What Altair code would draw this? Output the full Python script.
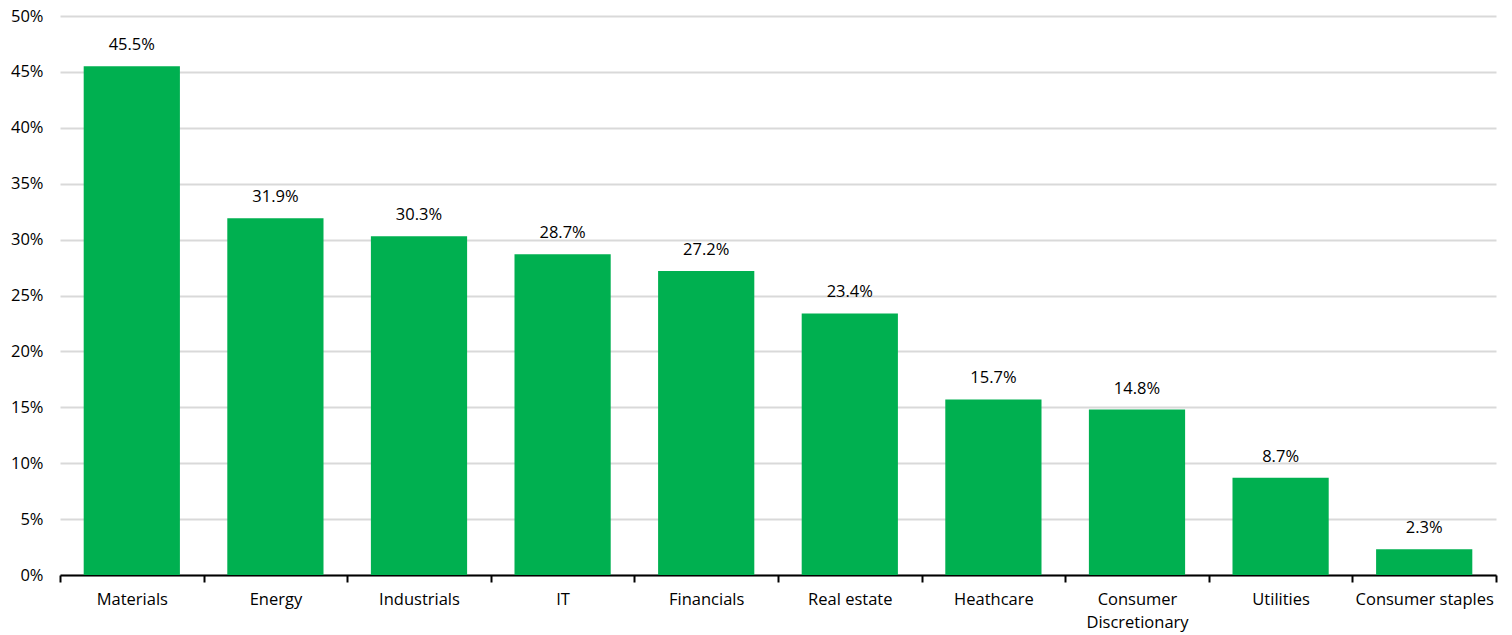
import altair as alt
import pandas as pd

sectors = ["Materials", "Energy", "Industrials", "IT", "Financials", "Real estate",
           "Heathcare", "Consumer Discretionary", "Utilities", "Consumer staples"]
values = [45.5, 31.9, 30.3, 28.7, 27.2, 23.4, 15.7, 14.8, 8.7, 2.3]

df = pd.DataFrame({"sector": sectors, "value": [v / 100 for v in values],
                   "label": [f"{v:.1f}%" for v in values]})

FONT = "Open Sans"
FS = 16.5

xscale = alt.Scale(paddingInner=0, paddingOuter=0)
x = alt.X("sector:N", sort=sectors, title=None, scale=xscale,
          axis=alt.Axis(labelAngle=0, tickBand="extent", domainColor="black", domainWidth=2,
                        tickColor="black", tickWidth=2, tickSize=7, labelPadding=9,
                        labelFontSize=FS, labelFont=FONT, labelColor="black", grid=False,
                        labelLineHeight=23,
                        labelExpr="datum.label == 'Consumer Discretionary' ? ['Consumer', 'Discretionary'] : datum.label"))
y = alt.Y("value:Q", title=None,
          scale=alt.Scale(domain=[0, 0.5]),
          axis=alt.Axis(format=".0%", values=[i / 100 for i in range(0, 51, 5)], domain=False, ticks=False,
                        labelPadding=17, labelFontSize=FS, labelFont=FONT, labelColor="black",
                        gridColor="#d9d9d9", gridWidth=2))

bars = alt.Chart(df).mark_bar(color="#00B050", width=alt.RelativeBandSize(0.67)).encode(x=x, y=y)
text = alt.Chart(df).mark_text(dy=-21, fontSize=FS, font=FONT, color="black").encode(
    x=alt.X("sector:N", sort=sectors, scale=xscale), y="value:Q", text="label:N")

chart = alt.layer(bars, text).properties(
    width=1436, height=559,
    autosize=alt.AutoSizeParams(type="none"),
    padding={"left": 52, "top": 8, "right": 8, "bottom": 60}
).configure_view(stroke=None)

chart.save("out.html", embed_options={"renderer": "svg", "actions": False})
